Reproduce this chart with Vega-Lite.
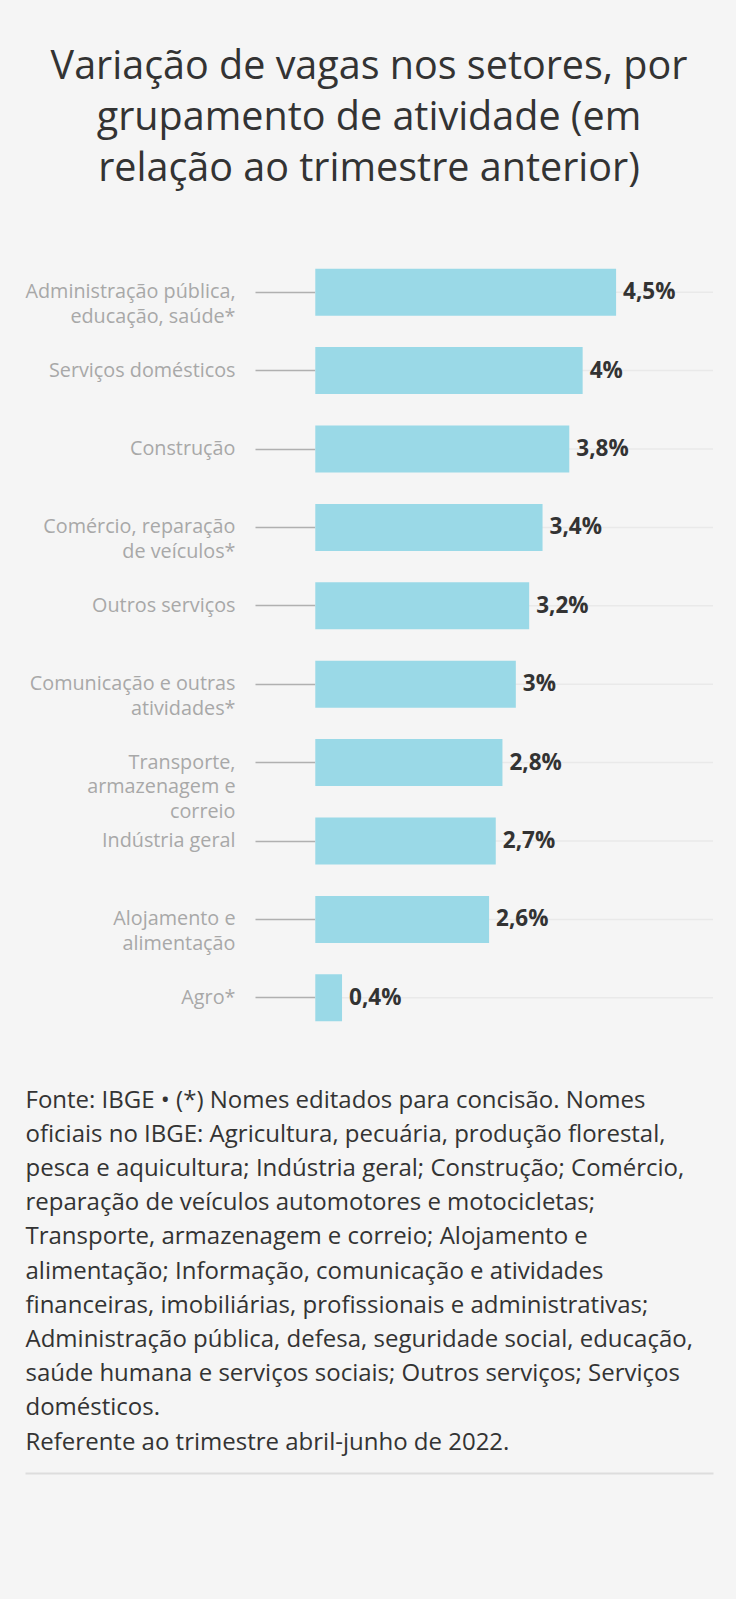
{
  "$schema": "https://vega.github.io/schema/vega-lite/v6.json",
  "background": "#f5f5f5",
  "padding": {"left": 24, "top": 46, "right": 24, "bottom": 126},
  "width": 688,
  "height": 784,
  "config": {
    "font": "Open Sans",
    "view": {"stroke": null},
    "locale": {"number": {"decimal": ",", "thousands": ".", "grouping": [3], "currency": ["R$ ", ""]}}
  },
  "title": {
    "text": ["Variação de vagas nos setores, por", "grupamento de atividade (em", "relação ao trimestre anterior)"],
    "fontSize": 39.5,
    "fontWeight": "normal",
    "color": "#333333",
    "lineHeight": 51,
    "anchor": "middle",
    "offset": 64,
    "font": "Open Sans"
  },
  "data": {"values": [
    {"setor": "Administração pública,|educação, saúde*", "valor": 0.045},
    {"setor": "Serviços domésticos", "valor": 0.04},
    {"setor": "Construção", "valor": 0.038},
    {"setor": "Comércio, reparação|de veículos*", "valor": 0.034},
    {"setor": "Outros serviços", "valor": 0.032},
    {"setor": "Comunicação e outras|atividades*", "valor": 0.03},
    {"setor": "Transporte,|armazenagem e|correio", "valor": 0.028},
    {"setor": "Indústria geral", "valor": 0.027},
    {"setor": "Alojamento e|alimentação", "valor": 0.026},
    {"setor": "Agro*", "valor": 0.004}
  ]},
  "encoding": {
    "y": {
      "field": "setor",
      "type": "nominal",
      "sort": null,
      "scale": {"paddingInner": 0.4, "paddingOuter": 0.2},
      "axis": {
        "title": null,
        "domain": false,
        "ticks": true,
        "tickSize": 60,
        "tickColor": "#b0b0b0",
        "tickWidth": 1.5,
        "labelPadding": 20,
        "labelFontSize": 19.8,
        "labelColor": "#a8a8a8",
        "labelLineHeight": 24.5,
        "labelExpr": "split(datum.label, '|')",
        "labelLimit": 400,
        "labelAlign": "right",
        "labelBaseline": "middle",
        "grid": false,
        "offset": -290
      }
    },
    "x": {
      "field": "valor",
      "type": "quantitative",
      "scale": {"domain": [-0.04343, 0.0595], "nice": false, "zero": false},
      "axis": {
        "orient": "bottom",
        "offset": 436,
        "domain": true,
        "domainColor": "#dddddd",
        "domainWidth": 2,
        "ticks": false,
        "labels": false,
        "grid": false,
        "title": [
          "Fonte: IBGE • (*) Nomes editados para concisão. Nomes",
          "oficiais no IBGE: Agricultura, pecuária, produção florestal,",
          "pesca e aquicultura; Indústria geral; Construção; Comércio,",
          "reparação de veículos automotores e motocicletas;",
          "Transporte, armazenagem e correio; Alojamento e",
          "alimentação; Informação, comunicação e atividades",
          "financeiras, imobiliárias, profissionais e administrativas;",
          "Administração pública, defesa, seguridade social, educação,",
          "saúde humana e serviços sociais; Outros serviços; Serviços",
          "domésticos.",
          "Referente ao trimestre abril-junho de 2022."
        ],
        "titleAnchor": "start",
        "titleAlign": "left",
        "titleBaseline": "alphabetic",
        "titleX": 0,
        "titleY": -366,
        "titleFont": "Open Sans",
        "titleFontSize": 24,
        "titleFontWeight": "normal",
        "titleColor": "#333333",
        "titleLineHeight": 34.2
      }
    }
  },
  "layer": [
    {
      "mark": {"type": "rule", "color": "#e9e9e9", "strokeWidth": 1.5},
      "encoding": {
        "x": {"datum": 0, "type": "quantitative"},
        "x2": {"datum": 0.0595}
      }
    },
    {
      "mark": {"type": "bar", "color": "#9ad9e7"}
    },
    {
      "mark": {"type": "text", "align": "left", "baseline": "middle", "dx": 7, "fontWeight": "bold", "fontSize": 22.5, "color": "#333333"},
      "encoding": {
        "text": {"field": "valor", "type": "quantitative", "format": ".1~%"}
      }
    }
  ]
}
